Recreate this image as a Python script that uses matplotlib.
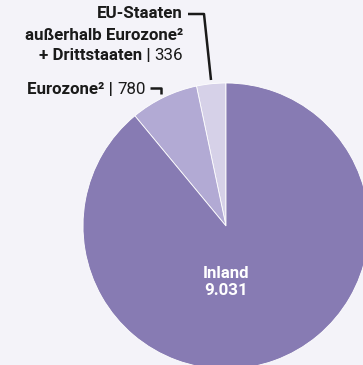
import matplotlib.pyplot as plt

labels = ['EU-Staaten\naußerhalb Eurozone²\n+ Drittstaaten', 'Eurozone²', 'Inland']
values = [336, 780, 9031]
value_text = ['336', '780', '9.031']
colors = ['#d6d1e8', '#b2aad4', '#877bb3']
bg = '#f4f3f9'

plt.rcParams['font.family'] = ['Roboto', 'DejaVu Sans']

fig = plt.figure(figsize=(3.63, 3.65), dpi=100, facecolor=bg)
ax = fig.add_axes([0, 0, 1, 1])
ax.set_facecolor(bg)

# pie in pixel coordinates (y up)
ax.pie(values, colors=colors, startangle=90, counterclock=True,
       center=(226, 365 - 226), radius=143,
       wedgeprops=dict(edgecolor='white', linewidth=0.6))
ax.set_xlim(0, 363)
ax.set_ylim(0, 365)
ax.set_aspect('auto')
ax.axis('off')

fs = 12.2
rend = fig.canvas.get_renderer()

def label(x, y, bold, reg):
    # right aligned: regular value, then bold text before it
    t = ax.text(x, y, reg, ha='right', va='center', fontsize=fs, color='#1a1a1a')
    w = t.get_window_extent(rend).width
    ax.text(x - w, y, bold + ' | ', ha='right', va='center', fontsize=fs,
            fontweight='bold', color='#1a1a1a')

# EU-Staaten label (three lines)
ax.text(183, 365 - 13, 'EU-Staaten', ha='right', va='center', fontsize=fs,
        fontweight='bold', color='#1a1a1a')
ax.text(183, 365 - 35, 'außerhalb Eurozone²', ha='right', va='center', fontsize=fs,
        fontweight='bold', color='#1a1a1a')
label(183, 365 - 56, '+ Drittstaaten', value_text[0])
ax.plot([188, 204, 211], [365 - 14, 365 - 14, 365 - 80], color='#1a1a1a', lw=1.8,
        solid_capstyle='butt')

# Eurozone label
label(146, 365 - 89, labels[1], value_text[1])
ax.plot([150, 161, 161], [365 - 88, 365 - 88, 365 - 94], color='#1a1a1a', lw=1.8,
        solid_capstyle='butt')

# Inland label
ax.text(226, 365 - 282, labels[2] + '\n' + value_text[2], ha='center', va='center',
        fontsize=fs, fontweight='bold', color='white', linespacing=1.2)

fig.savefig('out.png', dpi=100, facecolor=bg)
